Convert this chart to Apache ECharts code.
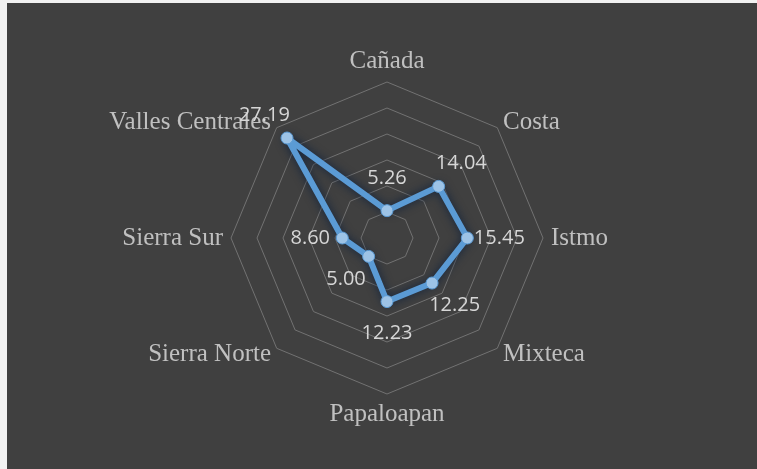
<!DOCTYPE html>
<html>
<head>
<meta charset="utf-8">
<script src="https://cdn.jsdelivr.net/npm/echarts@6/dist/echarts.min.js"></script>
<style>
    html, body { margin: 0; padding: 0; background: #ffffff; }
    #frame { position: absolute; left: 0; top: 0; width: 757px; height: 469px; background: #f2f2f2; }
    #radar { position: absolute; left: 7px; top: 3px; width: 750px; height: 466px; background: #404040; }
</style>
</head>
<body>
<div id="frame"></div>
<div id="radar"></div>
<script>
// regiones, en el orden del reloj empezando arriba
var regions = ['Cañada', 'Costa', 'Istmo', 'Mixteca', 'Papaloapan', 'Sierra Norte', 'Sierra Sur', 'Valles Centrales'];
var values = [5.26, 14.04, 15.45, 12.25, 12.23, 5.00, 8.60, 27.19];
var axisMax = 30;
var rings = 6;

var center = [380, 235];
var labelDist = 32;

// echarts dibuja los ejes en sentido antihorario: invertir el orden (menos el primero)
var order = [0];
for (var i = regions.length - 1; i > 0; i--) {
    order.push(i);
}
var axisNames = order.map(function (i) { return regions[i]; });
var axisValues = order.map(function (i) { return values[i]; });

var chart = echarts.init(document.getElementById('radar'));

chart.setOption({
    backgroundColor: '#404040',
    animation: false,
    radar: {
        center: center,
        radius: 156,
        startAngle: 90,
        shape: 'polygon',
        splitNumber: rings,
        axisName: {
            color: '#c0c0c0',
            fontFamily: 'Liberation Serif',
            fontSize: 25
        },
        nameGap: 8,
        indicator: axisNames.map(function (r) {
            return { name: r, min: 0, max: axisMax };
        }),
        axisLine: { show: false },
        axisTick: { show: false },
        axisLabel: { show: false },
        splitArea: { show: false },
        splitLine: {
            lineStyle: { color: '#727272', width: 1 }
        }
    },
    series: [{
        type: 'radar',
        symbol: 'circle',
        symbolSize: 12,
        lineStyle: {
            color: '#5b9bd5',
            width: 6,
            shadowBlur: 10,
            shadowColor: 'rgba(10, 30, 60, 0.9)'
        },
        itemStyle: {
            color: '#9dc3e6',
            borderColor: '#5b9bd5',
            borderWidth: 1
        },
        label: {
            show: true,
            color: '#d6d6d6',
            fontFamily: 'Open Sans',
            fontSize: 20,
            formatter: function (p) {
                return Number(p.value).toFixed(2);
            }
        },
        labelLayout: function (p) {
            // empujar cada etiqueta hacia afuera, en la dirección del eje
            var sx = p.rect.x + p.rect.width / 2;
            var sy = p.rect.y + p.rect.height / 2;
            var dx = sx - center[0];
            var dy = sy - center[1];
            var d = Math.sqrt(dx * dx + dy * dy) || 1;
            return {
                x: sx + dx / d * labelDist,
                y: sy + dy / d * labelDist,
                align: 'center',
                verticalAlign: 'middle'
            };
        },
        data: [{ value: axisValues }]
    }]
});
</script>
</body>
</html>
